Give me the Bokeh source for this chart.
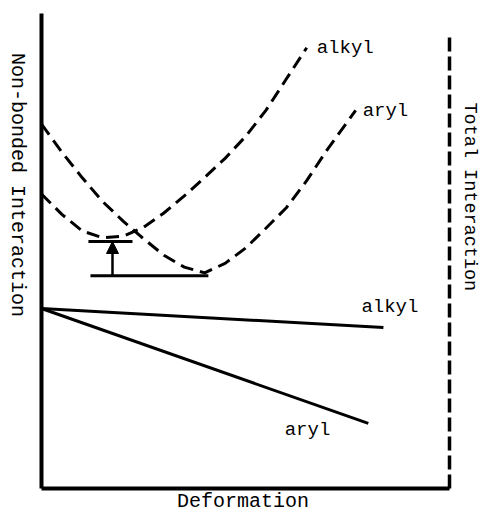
import math
from bokeh.plotting import figure
from bokeh.models import Range1d, LinearAxis, FixedTicker, Label, Arrow, NormalHead
from bokeh.embed import file_html
from bokeh.resources import INLINE

# ---- data (deformation on x, interaction on y, arbitrary units) ----
# Non-bonded interaction curves (dashed)
alkyl_nb_x = [0.0, 0.5, 1.0, 1.5, 2.0, 2.5, 3.0, 3.5, 4.0, 4.5, 5.0, 5.5, 6.0, 6.5]
alkyl_nb_y = [6.20, 5.77, 5.42, 5.28, 5.31, 5.50, 5.80, 6.16, 6.55, 6.95, 7.41, 7.96, 8.62, 9.28]
aryl_nb_x = [0.0, 0.5, 1.0, 1.5, 2.0, 2.5, 3.0, 3.5, 4.0, 4.5, 5.0, 5.5, 6.0, 6.5, 7.0, 7.7]
aryl_nb_y = [7.67, 7.08, 6.54, 6.04, 5.63, 5.26, 4.91, 4.66, 4.54, 4.74, 5.06, 5.48, 5.91, 6.48, 7.13, 7.96]
# Total interaction lines (solid)
alkyl_tot_x = [0.0, 8.38]
alkyl_tot_y = [3.79, 3.39]
aryl_tot_x = [0.0, 8.01]
aryl_tot_y = [3.79, 1.37]
# Gap bracket between the two minima
gap_x = 1.74
gap_low = 4.48
gap_high = 5.20
gap_low_x = [1.20, 4.09]
gap_high_x = [1.15, 2.23]
# Axis extents
x_axis_max = 10.0
y_axis_max = 10.0
total_axis_top = 9.58

curve_labels = ["alkyl", "aryl"]
x_title = "Deformation"
y_title = "Non-bonded Interaction"
y2_title = "Total Interaction"

# ---- layout ----
W, H = 480, 513
PX_X = 40.8   # pixels per x unit
PX_Y = 47.5   # pixels per y unit
X0_PX, Y0_PX = 41, 488   # where the origin sits on the canvas
FONT = "Liberation Mono"

x_range = Range1d(-X0_PX / PX_X, (W - X0_PX) / PX_X)
y_range = Range1d(-(H - Y0_PX) / PX_Y, Y0_PX / PX_Y)

p = figure(width=W, height=H, x_range=x_range, y_range=y_range,
           output_backend="svg", toolbar_location=None,
           x_axis_type=None, y_axis_type=None, min_border=0)
p.outline_line_color = None
p.background_fill_color = "white"
p.border_fill_color = "white"


def make_axis(width=4, **kw):
    return LinearAxis(ticker=FixedTicker(ticks=[]),
                      major_tick_line_color=None, minor_tick_line_color=None,
                      major_tick_in=0, major_tick_out=0, minor_tick_in=0, minor_tick_out=0,
                      major_label_text_font_size="0px", major_label_standoff=0,
                      axis_label_standoff=0,
                      axis_line_color="black", axis_line_width=width, **kw)


p.add_layout(make_axis(fixed_location=0, bounds=(0, y_axis_max)), "left")
p.add_layout(make_axis(fixed_location=0, bounds=(0, x_axis_max)), "below")
p.add_layout(make_axis(width=3.5, fixed_location=x_axis_max, bounds=(0, total_axis_top),
                       axis_line_dash="14 5"), "right")

# dashed non-bonded curves
p.line(alkyl_nb_x, alkyl_nb_y, line_color="black", line_width=3, line_dash="13 7")
p.line(aryl_nb_x, aryl_nb_y, line_color="black", line_width=3, line_dash="13 7")
# solid total lines
p.line(alkyl_tot_x, alkyl_tot_y, line_color="black", line_width=3)
p.line(aryl_tot_x, aryl_tot_y, line_color="black", line_width=3)

# gap bracket
p.segment(x0=[gap_low_x[0], gap_high_x[0]], x1=[gap_low_x[1], gap_high_x[1]],
          y0=[gap_low, gap_high], y1=[gap_low, gap_high],
          line_color="black", line_width=3)
p.add_layout(Arrow(end=NormalHead(size=12, fill_color="black", line_color="black", line_width=1),
                   x_start=gap_x, y_start=gap_low, x_end=gap_x, y_end=gap_high,
                   line_color="black", line_width=2.5))

# curve labels
lab_kw = dict(text_font=FONT, text_font_size="19px", text_color="black", text_baseline="middle")
p.add_layout(Label(x=alkyl_nb_x[-1] + 10 / PX_X, y=alkyl_nb_y[-1], text=curve_labels[0],
                   text_align="left", **lab_kw))
p.add_layout(Label(x=aryl_nb_x[-1] + 7 / PX_X, y=aryl_nb_y[-1] - 1 / PX_Y, text=curve_labels[1],
                   text_align="left", **lab_kw))
p.add_layout(Label(x=alkyl_tot_x[-1] - 22 / PX_X, y=alkyl_tot_y[-1] + 20 / PX_Y, text=curve_labels[0],
                   text_align="left", **lab_kw))
p.add_layout(Label(x=aryl_tot_x[-1] - 38 / PX_X, y=aryl_tot_y[-1] - 7 / PX_Y, text=curve_labels[1],
                   text_align="right", **lab_kw))

# axis titles
p.add_layout(Label(x=-24 / PX_X, y=6.39, text=y_title, angle=-math.pi / 2,
                   text_align="center", text_baseline="middle",
                   text_font=FONT, text_font_size="20px", text_color="black"))
p.add_layout(Label(x=x_axis_max + 20 / PX_X, y=6.14, text=y2_title, angle=-math.pi / 2,
                   text_align="center", text_baseline="middle",
                   text_font=FONT, text_font_size="18.5px", text_color="black"))
p.add_layout(Label(x=4.94, y=-13 / PX_Y, text=x_title,
                   text_align="center", text_baseline="middle",
                   text_font=FONT, text_font_size="20px", text_color="black"))

open("out.html", "w").write(file_html(p, INLINE))
